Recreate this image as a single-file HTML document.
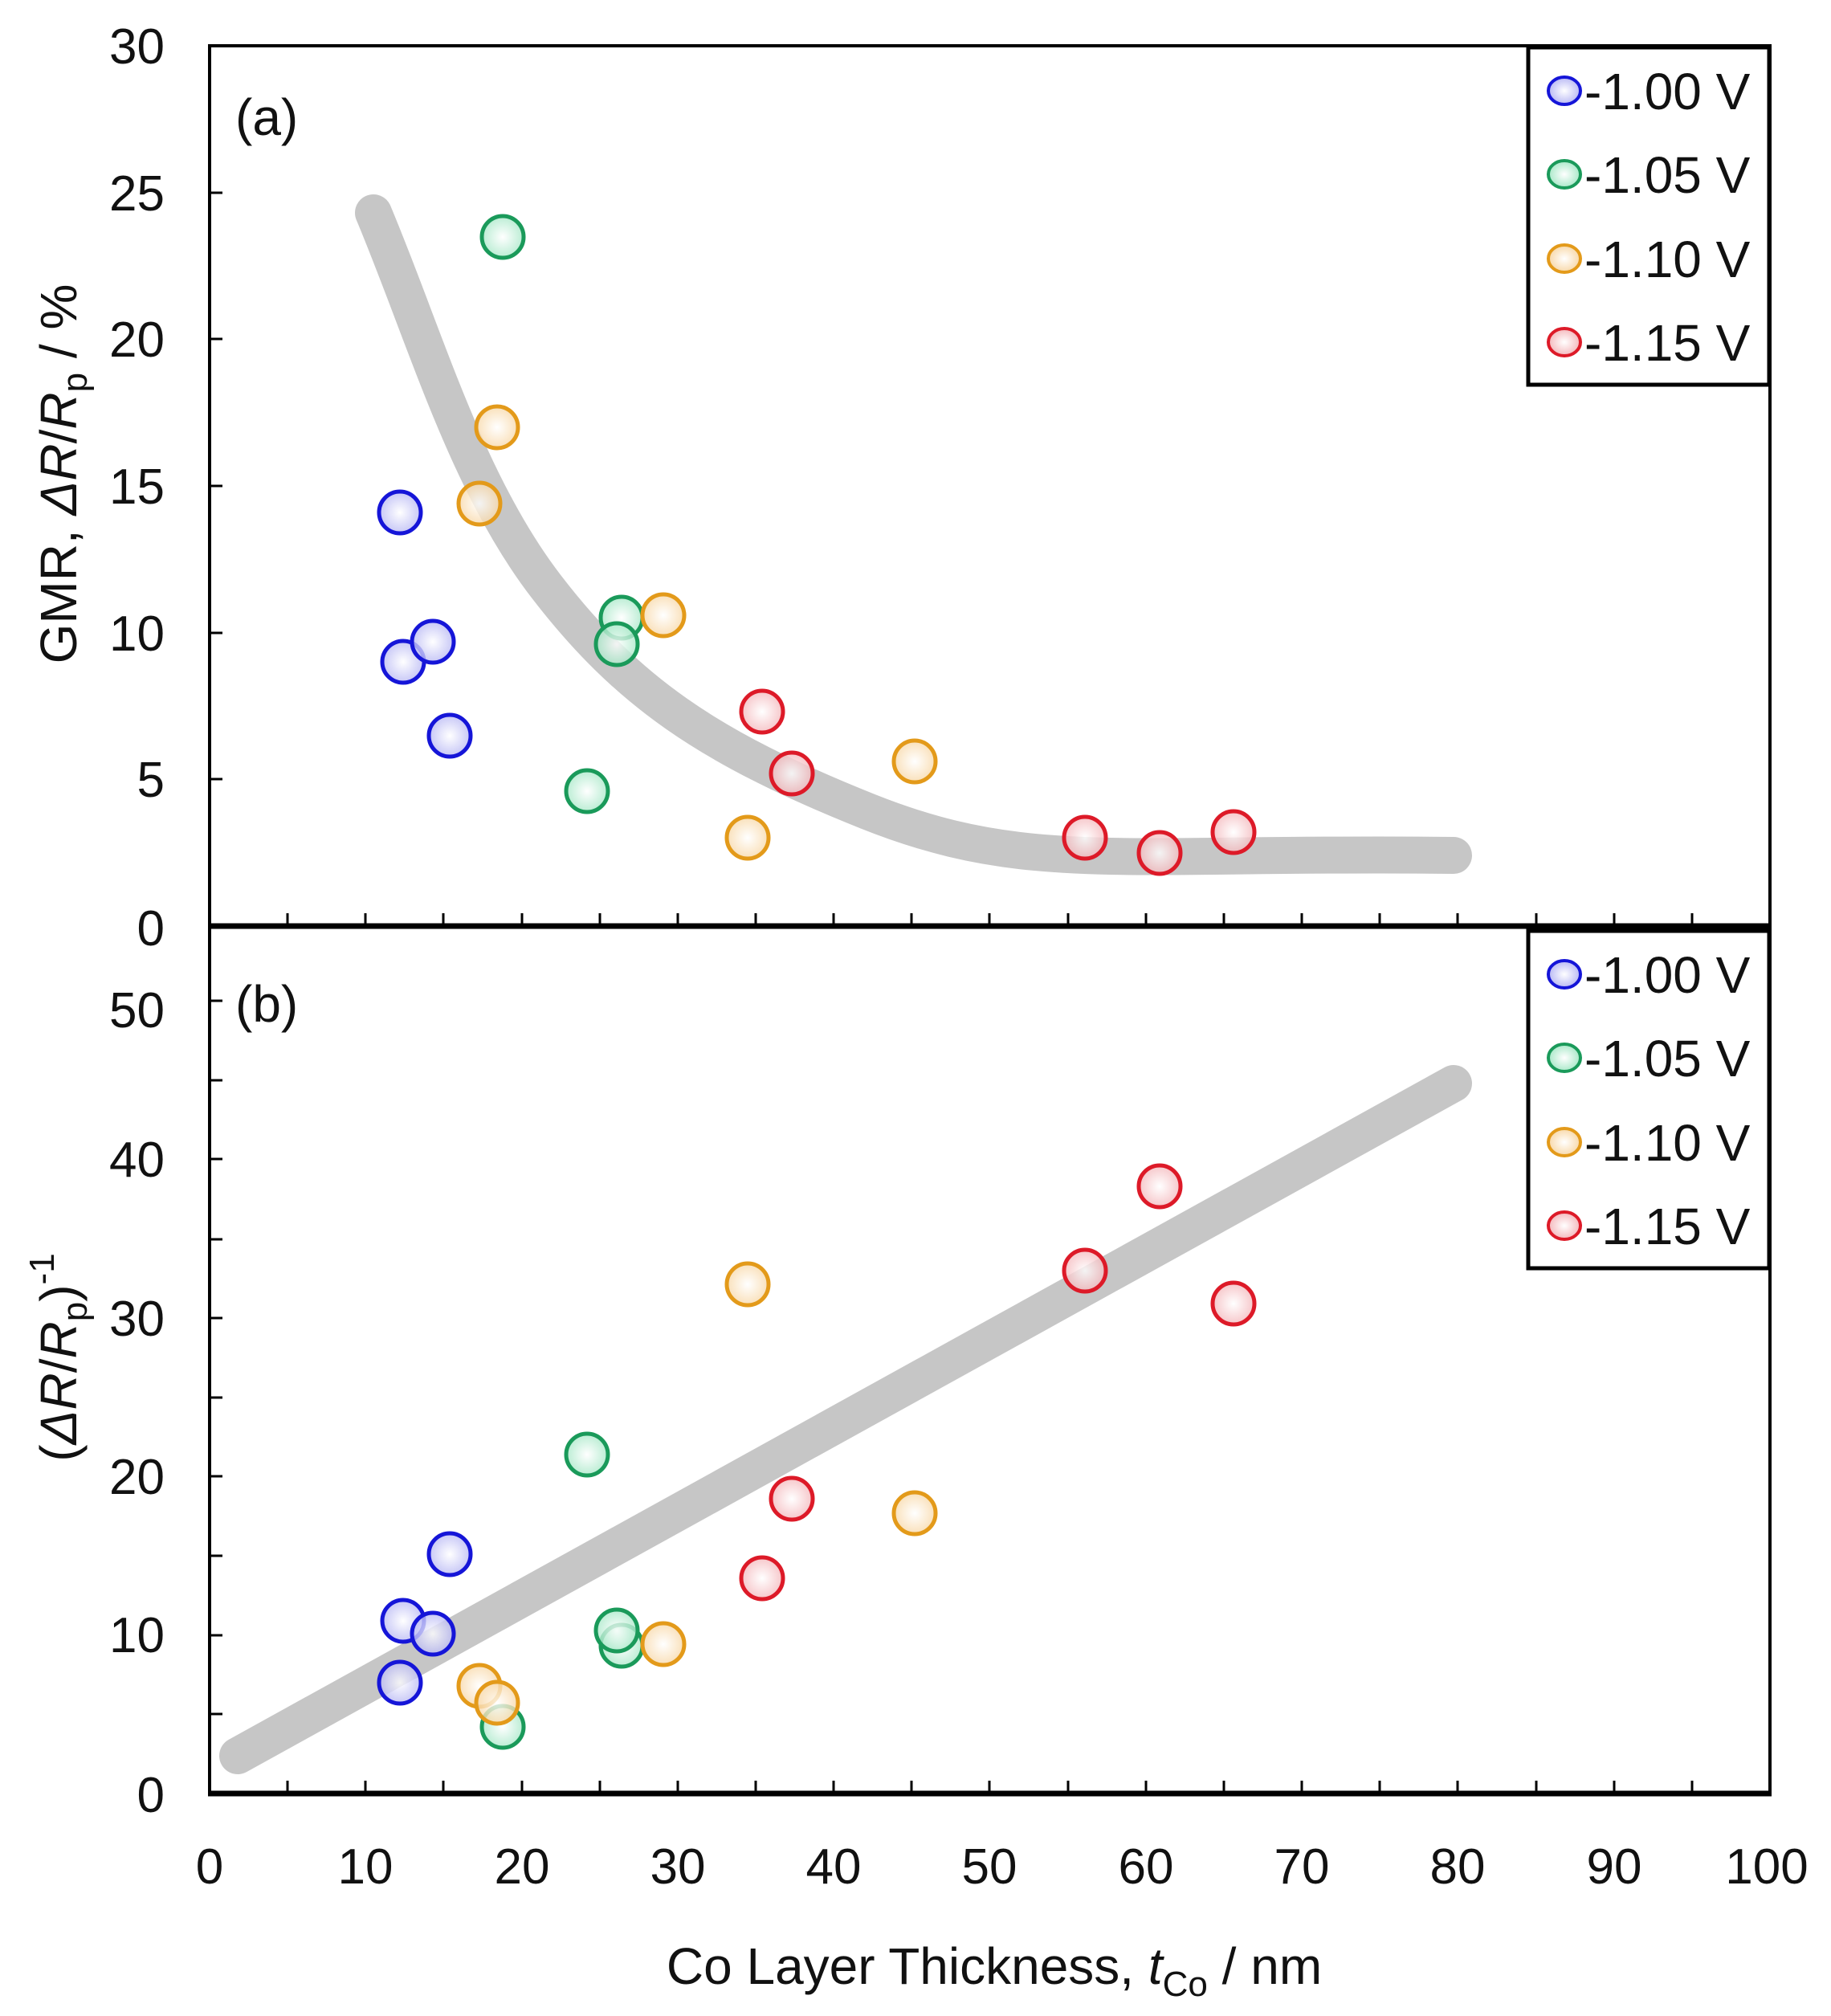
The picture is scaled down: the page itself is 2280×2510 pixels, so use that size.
<!DOCTYPE html>
<html><head><meta charset="utf-8"><style>
html,body{margin:0;padding:0;background:#fff}
svg{display:block}
text{font-family:"Liberation Sans",Arial,sans-serif;fill:#111}
</style></head><body>
<svg width="2280" height="2510" viewBox="0 0 2280 2510" xmlns="http://www.w3.org/2000/svg">
<defs>
<radialGradient id="gb" cx="50%" cy="50%" r="50%"><stop offset="0" stop-color="#ffffff"/><stop offset="1" stop-color="#b8b8f4"/></radialGradient>
<radialGradient id="gg" cx="50%" cy="50%" r="50%"><stop offset="0" stop-color="#ffffff"/><stop offset="1" stop-color="#a8e8c8"/></radialGradient>
<radialGradient id="go" cx="50%" cy="50%" r="50%"><stop offset="0" stop-color="#ffffff"/><stop offset="1" stop-color="#f8d8a8"/></radialGradient>
<radialGradient id="gr" cx="50%" cy="50%" r="50%"><stop offset="0" stop-color="#ffffff"/><stop offset="1" stop-color="#f4b8bc"/></radialGradient>
</defs>

<path d="M465,265 C530,420 580,600 680,730 S880,930 1080,1010 S1400,1060 1810,1065" fill="none" stroke="#c6c6c6" stroke-width="46" stroke-linecap="round" stroke-linejoin="round"/>
<line x1="296" y1="2186" x2="1810" y2="1349" stroke="#c6c6c6" stroke-width="46" stroke-linecap="round"/>

<g stroke-width="5" fill-opacity="0.8">
<g stroke="#1515d8" fill="url(#gb)">
<circle cx="498" cy="638" r="26"/><circle cx="502" cy="824" r="26"/><circle cx="539" cy="799" r="26"/><circle cx="560" cy="916" r="26"/>
<circle cx="498" cy="2095" r="26"/><circle cx="502" cy="2018" r="26"/><circle cx="539" cy="2034" r="26"/><circle cx="560" cy="1935" r="26"/>
</g>
<g stroke="#1a9a5a" fill="url(#gg)">
<circle cx="626" cy="295" r="26"/><circle cx="774" cy="769" r="26"/><circle cx="768" cy="802" r="26"/><circle cx="731" cy="985" r="26"/>
<circle cx="626" cy="2150" r="26"/><circle cx="774" cy="2049" r="26"/><circle cx="768" cy="2030" r="26"/><circle cx="731" cy="1811" r="26"/>
</g>
<g stroke="#e39a1a" fill="url(#go)">
<circle cx="619" cy="532" r="26"/><circle cx="597" cy="627" r="26"/><circle cx="826" cy="766" r="26"/><circle cx="1139" cy="948" r="26"/><circle cx="931" cy="1043" r="26"/>
<circle cx="597" cy="2099" r="26"/><circle cx="619" cy="2120" r="26"/><circle cx="826" cy="2047" r="26"/><circle cx="931" cy="1599" r="26"/><circle cx="1139" cy="1884" r="26"/>
</g>
<g stroke="#dd1a28" fill="url(#gr)">
<circle cx="949" cy="886" r="26"/><circle cx="986" cy="963" r="26"/><circle cx="1351" cy="1043" r="26"/><circle cx="1444" cy="1062" r="26"/><circle cx="1536" cy="1036" r="26"/>
<circle cx="949" cy="1965" r="26"/><circle cx="986" cy="1866" r="26"/><circle cx="1351" cy="1582" r="26"/><circle cx="1444" cy="1477" r="26"/><circle cx="1536" cy="1623" r="26"/>
</g>
</g>

<rect x="261" y="57" width="1943" height="2176" fill="none" stroke="#000" stroke-width="4"/>
<line x1="259" y1="1153" x2="2206" y2="1153" stroke="#000" stroke-width="7"/>
<line x1="259" y1="2233" x2="2206" y2="2233" stroke="#000" stroke-width="7"/>

<g stroke="#000" stroke-width="3">
<path d="M358,1153v-16M455,1153v-16M552,1153v-16M650,1153v-16M747,1153v-16M844,1153v-16M941,1153v-16M1038,1153v-16M1135,1153v-16M1232,1153v-16M1330,1153v-16M1427,1153v-16M1524,1153v-16M1621,1153v-16M1718,1153v-16M1815,1153v-16M1913,1153v-16M2010,1153v-16M2107,1153v-16"/>
<path d="M358,2233v-16M455,2233v-16M552,2233v-16M650,2233v-16M747,2233v-16M844,2233v-16M941,2233v-16M1038,2233v-16M1135,2233v-16M1232,2233v-16M1330,2233v-16M1427,2233v-16M1524,2233v-16M1621,2233v-16M1718,2233v-16M1815,2233v-16M1913,2233v-16M2010,2233v-16M2107,2233v-16"/>
<path d="M261,970h16M261,788h16M261,605h16M261,422h16M261,240h16"/>
<path d="M261,2134h16M261,2036h16M261,1937h16M261,1838h16M261,1740h16M261,1641h16M261,1543h16M261,1443h16M261,1345h16M261,1246h16"/>
</g>

<g font-size="62" text-anchor="end">
<text x="205" y="79">30</text><text x="205" y="262">25</text><text x="205" y="444">20</text><text x="205" y="627">15</text><text x="205" y="810">10</text><text x="205" y="992">5</text><text x="205" y="1177">0</text>
<text x="205" y="1279">50</text><text x="205" y="1465">40</text><text x="205" y="1663">30</text><text x="205" y="1860">20</text><text x="205" y="2057">10</text><text x="205" y="2256">0</text>
</g>
<g font-size="62" text-anchor="middle">
<text x="261" y="2345">0</text><text x="455" y="2345">10</text><text x="650" y="2345">20</text><text x="844" y="2345">30</text><text x="1038" y="2345">40</text><text x="1232" y="2345">50</text><text x="1427" y="2345">60</text><text x="1621" y="2345">70</text><text x="1815" y="2345">80</text><text x="2010" y="2345">90</text><text x="2200" y="2345">100</text>
</g>
<text x="1238" y="2470" font-size="64" text-anchor="middle">Co Layer Thickness, <tspan font-style="italic">t</tspan><tspan font-size="44" dy="15">Co</tspan><tspan dy="-15"> / nm</tspan></text>

<text transform="translate(95,590) rotate(-90)" font-size="64" text-anchor="middle">GMR, <tspan font-style="italic">ΔR</tspan>/<tspan font-style="italic">R</tspan><tspan font-size="44" dy="13">p</tspan><tspan dy="-13"> / %</tspan></text>
<text transform="translate(95,1690) rotate(-90)" font-size="64" text-anchor="middle">(<tspan font-style="italic">ΔR</tspan>/<tspan font-style="italic">R</tspan><tspan font-size="44" dy="13">p</tspan><tspan dy="-13">)</tspan><tspan font-size="44" dy="-28">-1</tspan></text>

<text x="293" y="168" font-size="64">(a)</text>
<text x="293" y="1272" font-size="64">(b)</text>

<g>
<rect x="1903" y="59" width="300" height="420" fill="#fff" stroke="#000" stroke-width="5"/>
<g stroke-width="4">
<ellipse cx="1948" cy="113" rx="20" ry="17" stroke="#1515d8" fill="url(#gb)"/>
<ellipse cx="1948" cy="217" rx="20" ry="17" stroke="#1a9a5a" fill="url(#gg)"/>
<ellipse cx="1948" cy="322" rx="20" ry="17" stroke="#e39a1a" fill="url(#go)"/>
<ellipse cx="1948" cy="426" rx="20" ry="17" stroke="#dd1a28" fill="url(#gr)"/>
</g>
<g font-size="64"><text x="1973" y="136">-1.00 V</text><text x="1973" y="240">-1.05 V</text><text x="1973" y="345">-1.10 V</text><text x="1973" y="449">-1.15 V</text></g>
</g>
<g transform="translate(0,1100)">
<rect x="1903" y="59" width="300" height="420" fill="#fff" stroke="#000" stroke-width="5"/>
<g stroke-width="4">
<ellipse cx="1948" cy="113" rx="20" ry="17" stroke="#1515d8" fill="url(#gb)"/>
<ellipse cx="1948" cy="217" rx="20" ry="17" stroke="#1a9a5a" fill="url(#gg)"/>
<ellipse cx="1948" cy="322" rx="20" ry="17" stroke="#e39a1a" fill="url(#go)"/>
<ellipse cx="1948" cy="426" rx="20" ry="17" stroke="#dd1a28" fill="url(#gr)"/>
</g>
<g font-size="64"><text x="1973" y="136">-1.00 V</text><text x="1973" y="240">-1.05 V</text><text x="1973" y="345">-1.10 V</text><text x="1973" y="449">-1.15 V</text></g>
</g>
</svg>
</body></html>
